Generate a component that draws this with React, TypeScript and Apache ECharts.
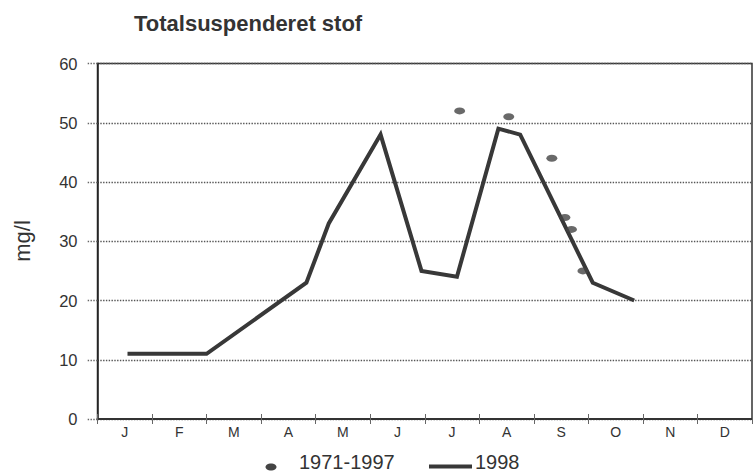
import React, { useEffect, useRef } from "react";
import * as echarts from "echarts";

const months = ["J", "F", "M", "A", "M", "J", "J", "A", "S", "O", "N", "D"];
const yTicks = [0, 10, 20, 30, 40, 50, 60];

// 1998 series: position in months from 1 January, and value (mg/l)
const line1998Pos = [0.55, 2.0, 3.83, 4.24, 5.19, 5.94, 6.59, 7.35, 7.75, 9.08, 9.84];
const line1998Val = [11, 11, 23, 33, 48, 25, 24, 49, 48, 23, 20];

// 1971-1997 points
const histPos = [6.64, 7.54, 8.33, 8.57, 8.69, 8.9];
const histVal = [52, 51, 44, 34, 32, 25];

const titleText = "Totalsuspenderet stof";
const yName = "mg/l";
const legendHist = "1971-1997";
const legend1998 = "1998";

const FONT = "'Liberation Sans', Arial, Helvetica, sans-serif";
const ELLIPSE = "path://M0 5a5 5 0 1 0 10 0a5 5 0 1 0 -10 0z";

export default function App() {
  const ref = useRef<HTMLDivElement>(null);
  useEffect(() => {
    document.body.style.margin = "0";
    if (!ref.current) return;
    const chart = echarts.init(ref.current, undefined, { renderer: "svg" });
    const lineData = line1998Pos.map((p, i) => [p, line1998Val[i]]);
    const histData = histPos.map((p, i) => [p, histVal[i]]);
    chart.setOption({
      animation: false,
      backgroundColor: "#fff",
      textStyle: { fontFamily: FONT },
      title: {
        text: titleText,
        left: 129,
        top: 7,
        textStyle: { fontFamily: FONT, fontSize: 22, fontWeight: "bold", color: "#333" },
      },
      grid: {
        left: 97.5,
        right: 2,
        top: 63.5,
        bottom: 55,
        show: true,
        borderColor: "#333",
        borderWidth: 1.5,
      },
      xAxis: [
        {
          type: "value",
          min: 0,
          max: 12,
          interval: 1,
          position: "bottom",
          axisLine: { show: true, lineStyle: { color: "#333", width: 2 } },
          axisTick: { show: true, inside: true, length: 5, lineStyle: { color: "#666", width: 1 } },
          axisLabel: { show: false },
          splitLine: { show: false },
        },
        {
          type: "value",
          min: 0,
          max: 12,
          interval: 1,
          position: "bottom",
          axisLine: { show: false },
          axisTick: { show: true, inside: false, length: 5, lineStyle: { color: "#666", width: 1 } },
          axisLabel: { show: false },
          splitLine: { show: false },
        },
        {
          type: "category",
          data: months,
          position: "bottom",
          boundaryGap: true,
          axisLine: { show: false },
          axisTick: { show: false },
          axisLabel: { show: true, fontSize: 14, color: "#333", margin: 6, fontFamily: FONT },
          splitLine: { show: false },
        },
      ],
      yAxis: {
        type: "value",
        min: 0,
        max: 60,
        interval: 10,
        axisLine: { show: true, lineStyle: { color: "#222", width: 1.5 } },
        axisTick: { show: true, inside: false, length: 11, lineStyle: { color: "#666", type: "dotted", width: 1.4 } },
        axisLabel: {
          fontSize: 16.5,
          color: "#333",
          margin: 20,
          fontFamily: FONT,
          formatter: (v: number) => (yTicks.includes(v) ? String(v) : ""),
        },
        splitLine: { show: true, lineStyle: { color: "#555", type: "dotted", width: 1.4 } },
      },
      series: [
        {
          name: legend1998,
          type: "line",
          xAxisIndex: 0,
          data: lineData,
          showSymbol: false,
          symbol: "none",
          lineStyle: { color: "#383838", width: 4, join: "miter" },
          z: 3,
        },
        {
          name: legendHist,
          type: "scatter",
          xAxisIndex: 0,
          data: histData,
          symbol: ELLIPSE,
          symbolSize: [11, 7],
          itemStyle: { color: "#444" },
          z: 4,
        },
      ],
      graphic: [
        {
          type: "text",
          x: 22,
          y: 241,
          rotation: Math.PI / 2,
          style: {
            text: yName,
            fontSize: 22,
            fontFamily: FONT,
            fill: "#333",
            align: "center",
            verticalAlign: "middle",
          },
        },
        {
          type: "ellipse",
          shape: { cx: 271, cy: 467, rx: 5.5, ry: 3.5 },
          style: { fill: "#444" },
        },
        {
          type: "text",
          x: 299,
          y: 462,
          style: {
            text: legendHist,
            fontSize: 20,
            fontFamily: FONT,
            fill: "#333",
            align: "left",
            verticalAlign: "middle",
          },
        },
        {
          type: "line",
          shape: { x1: 429, y1: 466.5, x2: 472, y2: 466.5 },
          style: { stroke: "#383838", lineWidth: 4 },
        },
        {
          type: "text",
          x: 475,
          y: 462,
          style: {
            text: legend1998,
            fontSize: 20,
            fontFamily: FONT,
            fill: "#333",
            align: "left",
            verticalAlign: "middle",
          },
        },
      ],
    });
    return () => chart.dispose();
  }, []);
  return <div ref={ref} style={{ width: 754, height: 474 }} />;
}
